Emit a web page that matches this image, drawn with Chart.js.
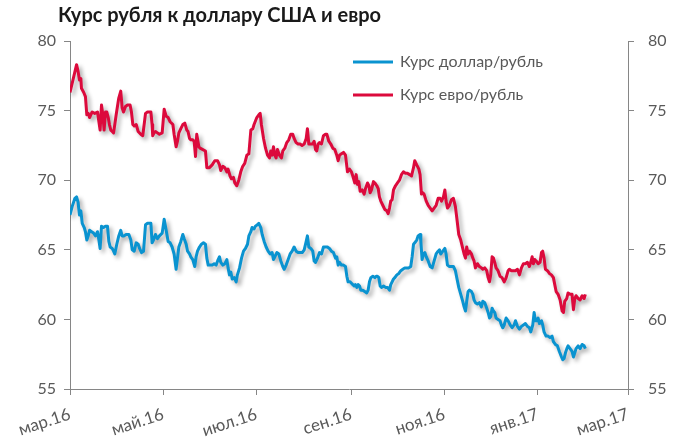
<!DOCTYPE html>
<html><head><meta charset="utf-8">
<script src="https://cdn.jsdelivr.net/npm/chart.js@4.4.1/dist/chart.umd.min.js"></script>
<style>html,body{margin:0;padding:0;background:#fff;}#wrap{width:688px;height:439px;}</style>
</head><body><div id="wrap"><canvas id="c" width="688" height="439"></canvas></div>
<script>
const chartTitle = 'Курс рубля к доллару США и евро';
const seriesNames = ['Курс доллар/рубль', 'Курс евро/рубль'];
const monthTicks = [0, 61, 122, 184, 245, 306, 365];
const monthLabels = ['мар.16', 'май.16', 'июл.16', 'сен.16', 'ноя.16', 'янв.17', 'мар.17'];
const yTicks = [55, 60, 65, 70, 75, 80];

const usdDays = [0,1.4,3.2,4.3,5.3,6.2,7.1,8.0,9.3,10.1,11.0,11.9,12.8,14.1,15.4,16.7,18.0,18.9,19.7,20.6,21.9,23.2,24.5,25.4,26.3,27.6,28.5,29.3,30.6,31.9,33.2,34.1,35.4,36.7,38.5,39.8,40.7,42.0,43.3,44.6,45.5,46.8,48.1,49.4,50.7,52.9,53.7,54.6,55.9,57.2,58.5,60.3,61.6,62.9,64.2,65.5,66.8,68.1,69.4,70.3,71.2,72.5,73.8,74.7,76.0,76.9,78.2,79.0,80.3,81.6,82.5,83.4,
84.7,86.0,87.3,88.6,89.5,90.4,91.7,93.0,94.3,95.6,96.9,97.8,98.6,100.0,101.3,102.6,103.4,104.3,105.2,106.1,107.4,108.7,109.5,110.9,112.2,113.5,114.8,116.1,117.0,118.3,119.1,120.4,121.3,122.6,123.5,124.8,125.7,127.0,128.3,129.6,130.9,132.2,133.1,134.0,135.3,136.6,137.9,139.2,140.1,141.4,142.7,144.0,145.3,146.6,147.9,149.2,150.5,151.9,153.2,154.5,155.3,156.2,157.5,158.8,159.7,160.6,161.9,163.2,164.5,165.8,167.1,
168.4,169.7,171.0,172.3,173.7,174.5,175.4,176.3,177.6,178.9,180.2,181.1,181.9,183.2,184.1,185.0,185.9,186.7,187.6,188.5,189.4,190.2,191.5,192.8,194.1,195.0,195.9,196.8,198.1,199.4,200.3,201.1,202.0,202.9,203.7,205.1,206.4,207.7,209.0,209.8,210.7,211.6,212.5,213.8,215.1,216.4,217.7,219.0,220.3,221.6,222.9,223.8,224.7,225.5,226.8,227.7,229.0,229.5,230.3,231.2,232.1,233.0,234.3,235.6,236.9,238.2,239.5,240.8,241.7,242.5,243.9,245.2,246.0,246.9,248.2,249.5,250.8,
252.1,253.0,254.3,255.6,256.9,257.8,258.7,259.5,260.4,261.3,262.6,263.5,264.3,265.2,266.5,267.8,269.1,270.0,271.3,272.6,273.5,274.4,275.2,276.1,277.0,277.8,278.7,280.0,281.3,282.2,283.1,284.0,285.3,286.6,287.9,289.2,290.5,291.4,292.7,294.0,295.3,296.6,297.9,299.2,300.5,301.4,302.7,303.6,304.4,305.3,306.2,307.1,308.4,309.2,310.1,311.4,312.7,314.0,315.3,316.2,317.5,318.8,320.1,321.5,322.3,323.2,324.1,325.0,325.8,327.1,328.4,329.3,330.2,331.0,332.4,333.7,335.0,336.3,337.1];
const usdRate = [67.5,68.1,68.7,68.8,68.4,67.5,67.8,66.9,66.6,66.3,65.7,66.0,66.4,66.3,66.2,66.0,66.3,65.7,65.1,66.7,66.6,66.7,66.7,65.6,65.2,65.1,64.9,64.7,65.4,66.0,66.4,66.0,66.0,66.1,66.1,65.7,65.0,64.9,65.5,65.4,65.1,64.8,64.9,66.8,66.9,66.9,65.5,65.7,66.1,65.8,66.0,66.2,67.2,66.4,65.6,65.5,65.2,64.7,63.6,64.4,65.2,65.6,66.1,65.8,65.4,64.9,64.7,64.5,64.3,63.8,64.5,64.9,
65.2,65.4,65.5,65.4,64.4,63.9,63.9,63.9,64.0,63.9,64.3,64.5,64.1,63.9,64.0,64.3,63.7,63.2,63.4,62.9,63.0,62.7,63.2,63.7,64.4,64.9,65.1,65.4,66.0,66.3,66.6,66.5,66.7,66.8,66.9,66.6,66.1,65.6,65.2,64.9,64.7,64.8,64.3,64.5,64.8,64.7,64.2,63.8,63.6,63.9,64.3,64.7,64.9,65.2,64.9,64.8,64.8,64.8,65.0,65.6,66.0,65.2,65.1,64.9,64.2,64.1,64.4,64.8,64.7,65.2,65.2,
65.2,65.1,64.9,64.8,64.4,64.5,63.9,64.1,63.9,63.9,63.8,63.1,62.7,62.7,62.6,62.5,62.4,62.5,62.3,62.5,62.4,62.1,62.1,62.0,61.9,62.1,62.7,63.0,63.1,63.0,63.1,63.1,63.0,62.4,62.3,62.4,62.3,62.3,62.1,62.5,62.7,62.9,63.0,63.2,63.3,63.5,63.6,63.7,63.7,63.7,63.8,64.5,65.4,65.5,65.7,66.0,66.1,65.6,64.3,64.7,64.8,64.5,64.2,63.8,63.7,64.2,64.7,64.9,65.0,64.7,64.9,65.1,64.7,63.9,63.8,63.8,63.8,
63.5,63.0,62.3,61.8,61.3,60.9,60.6,61.3,62.0,62.1,62.0,61.8,61.4,61.2,61.1,61.2,60.9,61.3,61.2,60.8,60.5,60.1,60.2,60.8,60.6,60.5,60.1,60.0,59.9,59.6,59.4,59.6,60.1,59.9,59.6,59.4,59.6,59.9,59.5,59.3,59.5,59.6,59.7,59.5,59.4,59.1,59.6,60.5,59.9,59.9,60.1,59.7,59.9,59.6,59.1,58.8,58.8,58.7,58.8,58.4,58.2,58.1,57.7,57.3,57.1,57.2,57.6,57.9,58.1,57.9,57.7,57.3,57.6,57.9,58.1,57.9,58.2,58.1,57.9];

const eurDays = [0,4.3,5.3,6.2,7.1,7.5,9.0,10.1,11.0,11.9,12.8,13.6,14.5,16.2,18.0,18.9,19.7,20.6,21.5,22.3,23.2,24.1,25.0,25.8,26.7,27.6,28.5,29.3,30.2,31.9,33.2,34.1,35.0,36.3,37.6,39.3,40.2,41.1,42.0,43.3,44.6,46.3,47.6,48.5,49.4,50.7,52.9,53.7,54.1,55.0,55.9,57.2,58.5,60.3,61.6,62.9,64.2,65.5,67.3,68.1,69.4,70.3,71.2,72.5,73.8,75.1,76.4,77.2,78.2,79.0,80.3,81.2,82.1,82.9,84.3,85.1,86.9,88.6,89.5,91.2,93.0,94.7,96.5,97.8,98.6,100.0,101.3,102.6,103.4,104.7,105.6,106.9,107.8,109.1,110.4,111.7,113.0,114.3,115.7,117.0,118.3,119.6,120.4,122.2,123.5,124.4,125.2,126.6,127.9,129.2,130.5,131.3,132.2,133.1,134.0,134.8,135.7,137.0,138.3,139.2,140.5,141.8,143.1,144.4,145.7,146.6,147.9,149.2,150.5,151.8,153.2,154.5,155.3,156.2,157.5,158.8,159.7,160.6,161.4,162.3,163.2,164.5,165.8,167.1,
168.0,169.3,170.6,171.9,173.2,174.5,175.4,176.3,177.6,178.9,180.2,181.5,182.8,184.1,185.0,186.3,187.2,188.0,188.9,189.8,191.1,192.4,193.3,194.6,195.5,196.3,197.2,198.5,199.4,200.7,201.6,202.4,203.3,204.6,205.9,207.2,208.1,209.0,209.8,210.7,211.6,212.9,214.2,215.5,216.8,218.1,219.4,220.7,222.1,223.4,224.7,225.5,226.8,228.2,229.0,229.9,230.8,231.6,233.0,234.3,235.6,236.9,238.2,239.5,240.8,242.1,243.0,244.3,245.2,246.0,246.9,248.2,249.5,250.8,
252.1,253.0,254.3,255.6,256.9,257.8,258.7,259.5,260.4,261.3,262.6,263.5,264.3,265.2,266.5,267.8,269.1,270.0,271.3,272.6,273.5,274.4,275.2,276.1,277.0,277.8,278.7,280.0,281.3,282.6,284.0,285.3,286.6,287.4,288.7,290.1,291.4,292.7,294.0,295.3,296.6,297.9,299.2,300.5,301.4,302.3,303.1,304.0,304.9,306.2,307.5,308.4,309.2,310.1,311.0,312.3,313.6,314.9,316.2,317.1,318.0,319.3,320.6,321.9,322.8,323.6,324.9,325.8,327.1,328.4,329.3,330.2,331.0,332.4,333.7,335.0,336.3,337.1];
const eurRate = [76.3,78.3,77.8,77.2,77.3,76.6,76.3,76.0,74.7,74.8,74.5,74.7,74.9,74.8,74.9,74.2,73.6,75.4,74.7,73.6,74.9,74.9,74.5,74.0,73.6,73.5,73.4,74.0,74.7,75.9,76.4,75.2,74.9,75.3,75.4,75.4,74.9,74.0,73.9,74.0,73.5,73.3,73.2,74.0,74.8,74.9,74.9,74.0,73.2,73.4,73.5,73.4,73.3,73.4,75.1,74.6,74.5,74.2,74.0,73.3,72.4,72.8,73.4,73.7,74.0,74.1,73.6,73.5,73.0,72.9,72.9,72.8,71.7,73.3,72.4,72.3,72.2,72.1,70.9,70.9,71.1,71.4,71.4,71.1,70.7,71.0,70.9,70.6,70.8,70.3,70.1,70.2,69.8,69.6,70.0,70.6,71.0,71.2,71.8,71.9,73.6,73.7,74.0,74.5,74.7,74.8,74.0,73.0,72.3,71.8,71.6,72.1,71.8,72.4,71.8,71.6,72.2,71.8,71.6,72.1,72.3,72.7,72.9,73.3,73.3,73.0,72.7,72.6,72.6,72.5,72.6,73.0,73.7,72.6,72.6,72.6,72.8,72.2,72.1,72.6,72.7,72.6,73.2,73.3,
73.3,72.8,72.6,72.3,72.2,71.8,71.4,71.8,71.9,72.0,71.8,70.6,70.8,70.6,70.3,69.8,70.4,69.7,69.9,69.2,69.3,69.0,69.4,69.8,69.6,69.1,69.3,69.9,69.8,69.6,69.4,68.8,68.5,68.2,67.9,67.8,67.6,68.0,68.5,68.6,69.3,69.6,69.8,70.0,70.4,70.6,70.5,70.5,70.4,70.3,70.9,71.4,71.1,70.8,70.4,69.0,69.1,69.0,68.5,68.2,68.0,67.8,68.0,68.2,68.7,68.7,68.5,68.8,69.3,68.5,68.0,68.2,68.6,68.7,
68.1,67.3,66.1,65.7,65.1,64.7,64.4,65.2,64.7,64.9,64.7,64.4,64.2,63.7,64.0,63.8,63.7,63.6,63.7,63.5,63.0,62.7,63.2,64.5,64.4,64.1,63.7,63.5,63.1,63.0,62.7,63.0,63.5,63.6,63.5,63.5,63.5,63.6,63.2,63.7,64.0,64.0,64.1,63.8,64.1,64.5,64.0,64.3,64.2,64.0,64.1,64.8,64.9,64.4,63.6,63.5,63.3,63.2,63.0,62.5,62.0,61.8,61.4,60.6,60.5,61.3,61.5,61.9,61.8,61.8,60.7,61.5,61.7,61.5,61.4,61.7,61.5,61.8];

const blue = '#0A93D0';
const red = '#DC0A3C';
const FONT = 'Lato, "Open Sans", sans-serif';
const textColor = '#595959';
const axisColor = '#868686';

function pts(days, vals) {
  const n = Math.min(days.length, vals.length);
  const out = [];
  for (let i = 0; i < n; i++) out.push({ x: days[i], y: vals[i] });
  return out;
}

const shadowPlugin = {
  id: 'shadow',
  beforeDatasetDraw(chart) {
    const c = chart.ctx; c.save();
    c.shadowColor = 'rgba(0,0,0,0.33)'; c.shadowBlur = 4; c.shadowOffsetX = 3; c.shadowOffsetY = 3;
  },
  afterDatasetDraw(chart) { chart.ctx.restore(); }
};

const decoPlugin = {
  id: 'deco',
  afterDraw(chart) {
    const c = chart.ctx;
    c.save();
    c.fillStyle = '#1a1a1a';
    c.font = 'bold 20px ' + FONT;
    c.textBaseline = 'alphabetic';
    c.textAlign = 'left';
    c.fillText(chartTitle, 58, 22);
    const items = [[seriesNames[0], blue, 62], [seriesNames[1], red, 95]];
    c.font = '16px ' + FONT;
    c.textBaseline = 'middle';
    items.forEach(([t, col, y]) => {
      c.strokeStyle = col; c.lineWidth = 3; c.lineCap = 'butt';
      c.beginPath(); c.moveTo(353, y); c.lineTo(393, y); c.stroke();
      c.fillStyle = textColor;
      c.fillText(t, 400, y);
    });
    c.restore();
  }
};

const tickFont = { family: FONT, size: 16 };
const xFont = { family: FONT, size: 17 };

new Chart(document.getElementById('c'), {
  type: 'line',
  data: {
    datasets: [
      { label: seriesNames[0], data: pts(usdDays, usdRate), borderColor: blue, borderWidth: 3, pointRadius: 0, tension: 0, borderJoinStyle: 'round', yAxisID: 'y' },
      { label: seriesNames[1], data: pts(eurDays, eurRate), borderColor: red, borderWidth: 3, pointRadius: 0, tension: 0, borderJoinStyle: 'round', yAxisID: 'y' }
    ]
  },
  options: {
    responsive: false,
    devicePixelRatio: 1,
    animation: false,
    layout: { padding: { top: 41, right: 0, bottom: 0, left: 0 } },
    plugins: { legend: { display: false }, tooltip: { enabled: false }, title: { display: false } },
    scales: {
      x: {
        type: 'linear', min: 0, max: 365, position: 'bottom',
        afterBuildTicks: s => { s.ticks = monthTicks.map(v => ({ value: v })); },
        afterFit: s => { s.height = 50; },
        ticks: { autoSkip: false, minRotation: 18, maxRotation: 18, color: textColor, font: xFont, padding: 9,
          callback: (v, i) => monthLabels[i] },
        grid: { drawOnChartArea: false, drawTicks: true, tickLength: 6, color: axisColor },
        border: { display: true, color: axisColor, width: 1 }
      },
      y: {
        position: 'left', min: 55, max: 80,
        afterBuildTicks: s => { s.ticks = yTicks.map(v => ({ value: v })); },
        afterFit: s => { s.width = 70; },
        ticks: { color: textColor, font: tickFont, padding: 8 },
        grid: { drawOnChartArea: false, drawTicks: true, tickLength: 6, color: axisColor },
        border: { display: true, color: axisColor, width: 1 }
      },
      y2: {
        position: 'right', min: 55, max: 80,
        afterBuildTicks: s => { s.ticks = yTicks.map(v => ({ value: v })); },
        afterFit: s => { s.width = 60; },
        ticks: { color: textColor, font: tickFont, padding: 14 },
        grid: { drawOnChartArea: false, drawTicks: true, tickLength: 6, color: axisColor },
        border: { display: true, color: axisColor, width: 1 }
      }
    }
  },
  plugins: [shadowPlugin, decoPlugin]
});
</script>
</body></html>
